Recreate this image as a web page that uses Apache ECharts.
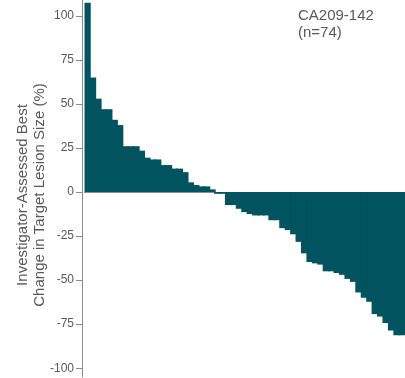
<!DOCTYPE html>
<html>
<head>
<meta charset="utf-8">
<script src="https://cdn.jsdelivr.net/npm/echarts@6/dist/echarts.min.js"></script>
<style>
  html, body { margin: 0; padding: 0; background: #fff; }
  #chart { width: 405px; height: 378px; }
</style>
</head>
<body>
<div id="chart"></div>
<script>
// Best percentage change from baseline in target lesion size, one bar per patient, sorted
const patientChange = [
  107.5, 65, 53, 47, 47, 41, 38, 26, 26, 26,
  23.5, 19.5, 18.5, 18.5, 15.3, 15.3, 13.3, 13.3, 11.3, 5.5,
  4, 3.2, 3.2, 1.5, -1, -1, -7.4, -7.4, -9.5, -11.4,
  -12.5, -13.3, -13.3, -13.3, -16, -16, -20.5, -21.6, -24, -28.3,
  -34.8, -39.7, -40.5, -41.2, -45, -45, -46, -47, -49.3, -51,
  -57, -60, -62.3, -69.3, -70.7, -74.3, -78.6, -81.3, -81.3
];
const patientIds = patientChange.map((_, i) => 'P' + (i + 1));
const yTicks = [-100, -75, -50, -25, 0, 25, 50, 75, 100];
const studyLabel = 'CA209-142\n(n=74)';
const yTitle = 'Investigator-Assessed Best\nChange in Target Lesion Size (%)';

const FONT = 'Liberation Sans, Arial, sans-serif';
const TEXT = '#595959';
const AXIS = '#8c8c8c';
const BAR = '#01545f';

const chart = echarts.init(document.getElementById('chart'), null, { renderer: 'canvas' });
chart.setOption({
  animation: false,
  title: {
    text: studyLabel,
    left: 298,
    top: 7,
    padding: 0,
    textStyle: { fontFamily: FONT, fontSize: 15, fontWeight: 'normal', color: TEXT, lineHeight: 17 }
  },
  grid: { left: 84.5, right: 0, top: 0, bottom: 1, containLabel: false, outerBoundsMode: 'none' },
  xAxis: {
    type: 'category',
    data: patientIds,
    axisLine: { onZero: true, lineStyle: { color: AXIS, width: 1 } },
    axisTick: { show: false },
    axisLabel: { show: false },
    splitLine: { show: false }
  },
  yAxis: {
    type: 'value',
    min: -105,
    max: 109,
    offset: 2.5,
    name: yTitle,
    nameLocation: 'middle',
    nameRotate: 90,
    nameGap: 34,
    nameMoveOverlap: false,
    nameTextStyle: { fontFamily: FONT, fontSize: 15, color: TEXT, lineHeight: 17, padding: [0, 13, 0, 0] },
    axisLine: { show: true, lineStyle: { color: AXIS, width: 1 } },
    axisTick: { show: true, length: 6, lineStyle: { color: AXIS }, customValues: yTicks },
    axisLabel: { fontFamily: FONT, fontSize: 12, color: TEXT, margin: 8, customValues: yTicks },
    splitLine: { show: false }
  },
  series: [{
    type: 'bar',
    data: patientChange,
    // bars wider than their band so neighbours overlap and no seams show
    barWidth: '130%',
    itemStyle: { color: BAR },
    silent: true
  }]
});
</script>
</body>
</html>
